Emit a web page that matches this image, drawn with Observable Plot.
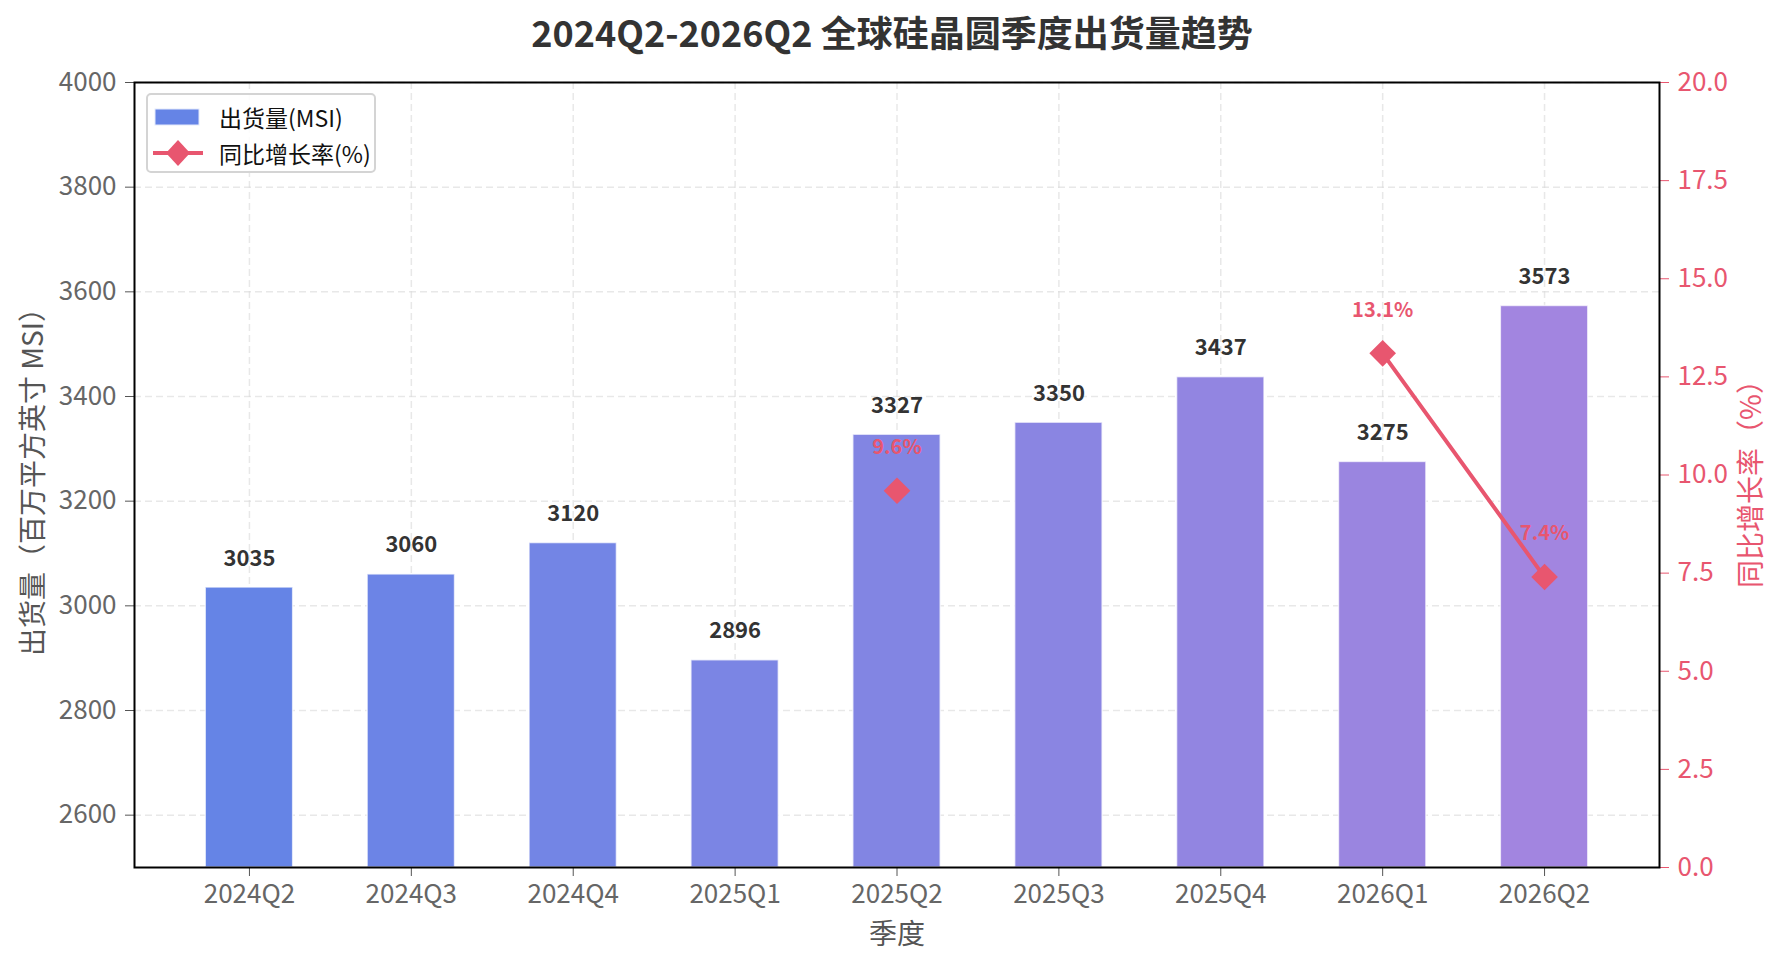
<!DOCTYPE html>
<html>
<head>
<meta charset="utf-8">
<script src="https://cdn.jsdelivr.net/npm/d3@7"></script>
<script src="https://cdn.jsdelivr.net/npm/@observablehq/plot@0.6"></script>
<style>
  html, body { margin: 0; padding: 0; background: #fff; }
  body { width: 1784px; height: 968px; overflow: hidden; font-family: "Noto Sans CJK SC", "Noto Sans", sans-serif; }
  #wrap { position: relative; width: 1784px; height: 968px; }
  #title { height: 52px; line-height: 62px; text-align: center; font-size: 36px; font-weight: bold; color: #333; white-space: nowrap; }
  #legend { position: absolute; left: 146px; top: 93px; width: 230px; height: 80px; border: 2px solid #d4d4d4; border-radius: 5px; background: rgba(255,255,255,0.85); box-sizing: border-box; font-size: 23px; color: #111; }
  .item { position: absolute; left: 0; height: 30px; display: flex; align-items: center; }
  .item span { position: absolute; left: 71px; white-space: nowrap; }
</style>
</head>
<body>
<div id="wrap">
  <div id="title">2024Q2-2026Q2 全球硅晶圆季度出货量趋势</div>
  <div id="chart"></div>
  <div id="legend">
    <div class="item" style="top:7px"><svg width="70" height="30"><rect x="7" y="7" width="44" height="16" fill="#6584E6" stroke="#e4e9fb" stroke-width="1"/></svg><span>出货量(MSI)</span></div>
    <div class="item" style="top:43px"><svg width="70" height="30"><line x1="5" y1="15" x2="55" y2="15" stroke="#E8566F" stroke-width="4"/><path d="M30 2 L42 15 L30 28 L18 15 Z" fill="#E8566F"/></svg><span>同比增长率(%)</span></div>
  </div>
</div>
<script>
const quarters = ["2024Q2","2024Q3","2024Q4","2025Q1","2025Q2","2025Q3","2025Q4","2026Q1","2026Q2"];
const shipments = [3035, 3060, 3120, 2896, 3327, 3350, 3437, 3275, 3573];
const yoy = [null, null, null, null, 9.6, null, null, 13.1, 7.4];
const leftTicks = [2600, 2800, 3000, 3200, 3400, 3600, 3800, 4000];
const rightTicks = [0, 2.5, 5, 7.5, 10, 12.5, 15, 17.5, 20];
const barColors = ["#6584E6","#6C84E6","#7385E5","#7B85E4","#8285E3","#8A85E2","#9285E1","#9A85E0","#A285E0"];

const yMin = 2500, yMax = 4000, pMax = 20;
const toY = p => yMin + p / pMax * (yMax - yMin);
const red = "#E8566F";

const rows = quarters.map((q, i) => ({q, v: shipments[i], p: yoy[i], c: barColors[i]}));
const pts = rows.filter(d => d.p != null);

const chart = Plot.plot({
  width: 1784,
  height: 916,
  marginTop: 30,
  marginBottom: 101,
  marginLeft: 134,
  marginRight: 125,
  style: {fontFamily: "'Noto Sans CJK SC', 'Noto Sans', sans-serif", fontSize: "25px", background: "white", overflow: "visible"},
  x: {type: "band", domain: quarters, paddingInner: 0.46, paddingOuter: 0.44, round: false, axis: null},
  y: {domain: [yMin, yMax], axis: null},
  marks: [
    Plot.gridY(leftTicks, {stroke: "#d8d8d8", strokeOpacity: 0.6, strokeDasharray: "7,4", strokeWidth: 1.5}),
    Plot.gridX(quarters, {stroke: "#d8d8d8", strokeOpacity: 0.6, strokeDasharray: "7,4", strokeWidth: 1.5}),
    Plot.barY(rows, {x: "q", y1: () => yMin, y2: "v", fill: "c", stroke: "white", strokeOpacity: 0.7, strokeWidth: 1.5}),
    Plot.text(rows, {x: "q", y: "v", text: d => String(d.v), dy: -29, fill: "#333", fontWeight: "bold", fontSize: 22}),
    Plot.line(rows, {x: "q", y: d => d.p == null ? NaN : toY(d.p), stroke: red, strokeWidth: 4}),
    Plot.dot(pts, {x: "q", y: d => toY(d.p), symbol: "diamond2", r: 12, fill: red}),
    Plot.text(pts, {x: "q", y: d => toY(d.p), text: d => d.p.toFixed(1) + "%", dy: -43, fill: red, fontWeight: "bold", fontSize: 20}),
    Plot.axisY({anchor: "left", ticks: leftTicks, tickFormat: d => String(d), tickSize: 9, tickPadding: 9, stroke: "#555", fill: "#666", fontSize: 26, label: null}),
    Plot.axisY({anchor: "right", ticks: rightTicks.map(toY), tickFormat: d => ((d - yMin) / (yMax - yMin) * pMax).toFixed(1), tickSize: 9, tickPadding: 9, stroke: red, fill: red, fontSize: 26, label: null}),
    Plot.axisX({ticks: quarters, tickSize: 9, tickPadding: 8, stroke: "#555", fill: "#666", fontSize: 26, label: null}),
    Plot.frame({stroke: "black", strokeWidth: 2}),
    Plot.text(["出货量（百万平方英寸 MSI）"], {frameAnchor: "left", textAnchor: "middle", dx: -100, dy: 0, rotate: -90, fill: "#555", fontSize: 28}),
    Plot.text(["同比增长率（%）"], {frameAnchor: "right", textAnchor: "middle", dx: 93, dy: 2, rotate: -90, fill: red, fontSize: 28}),
    Plot.text(["季度"], {frameAnchor: "bottom", textAnchor: "middle", dy: 76, fill: "#555", fontSize: 28})
  ]
});
document.getElementById("chart").appendChild(chart);
</script>
</body>
</html>
